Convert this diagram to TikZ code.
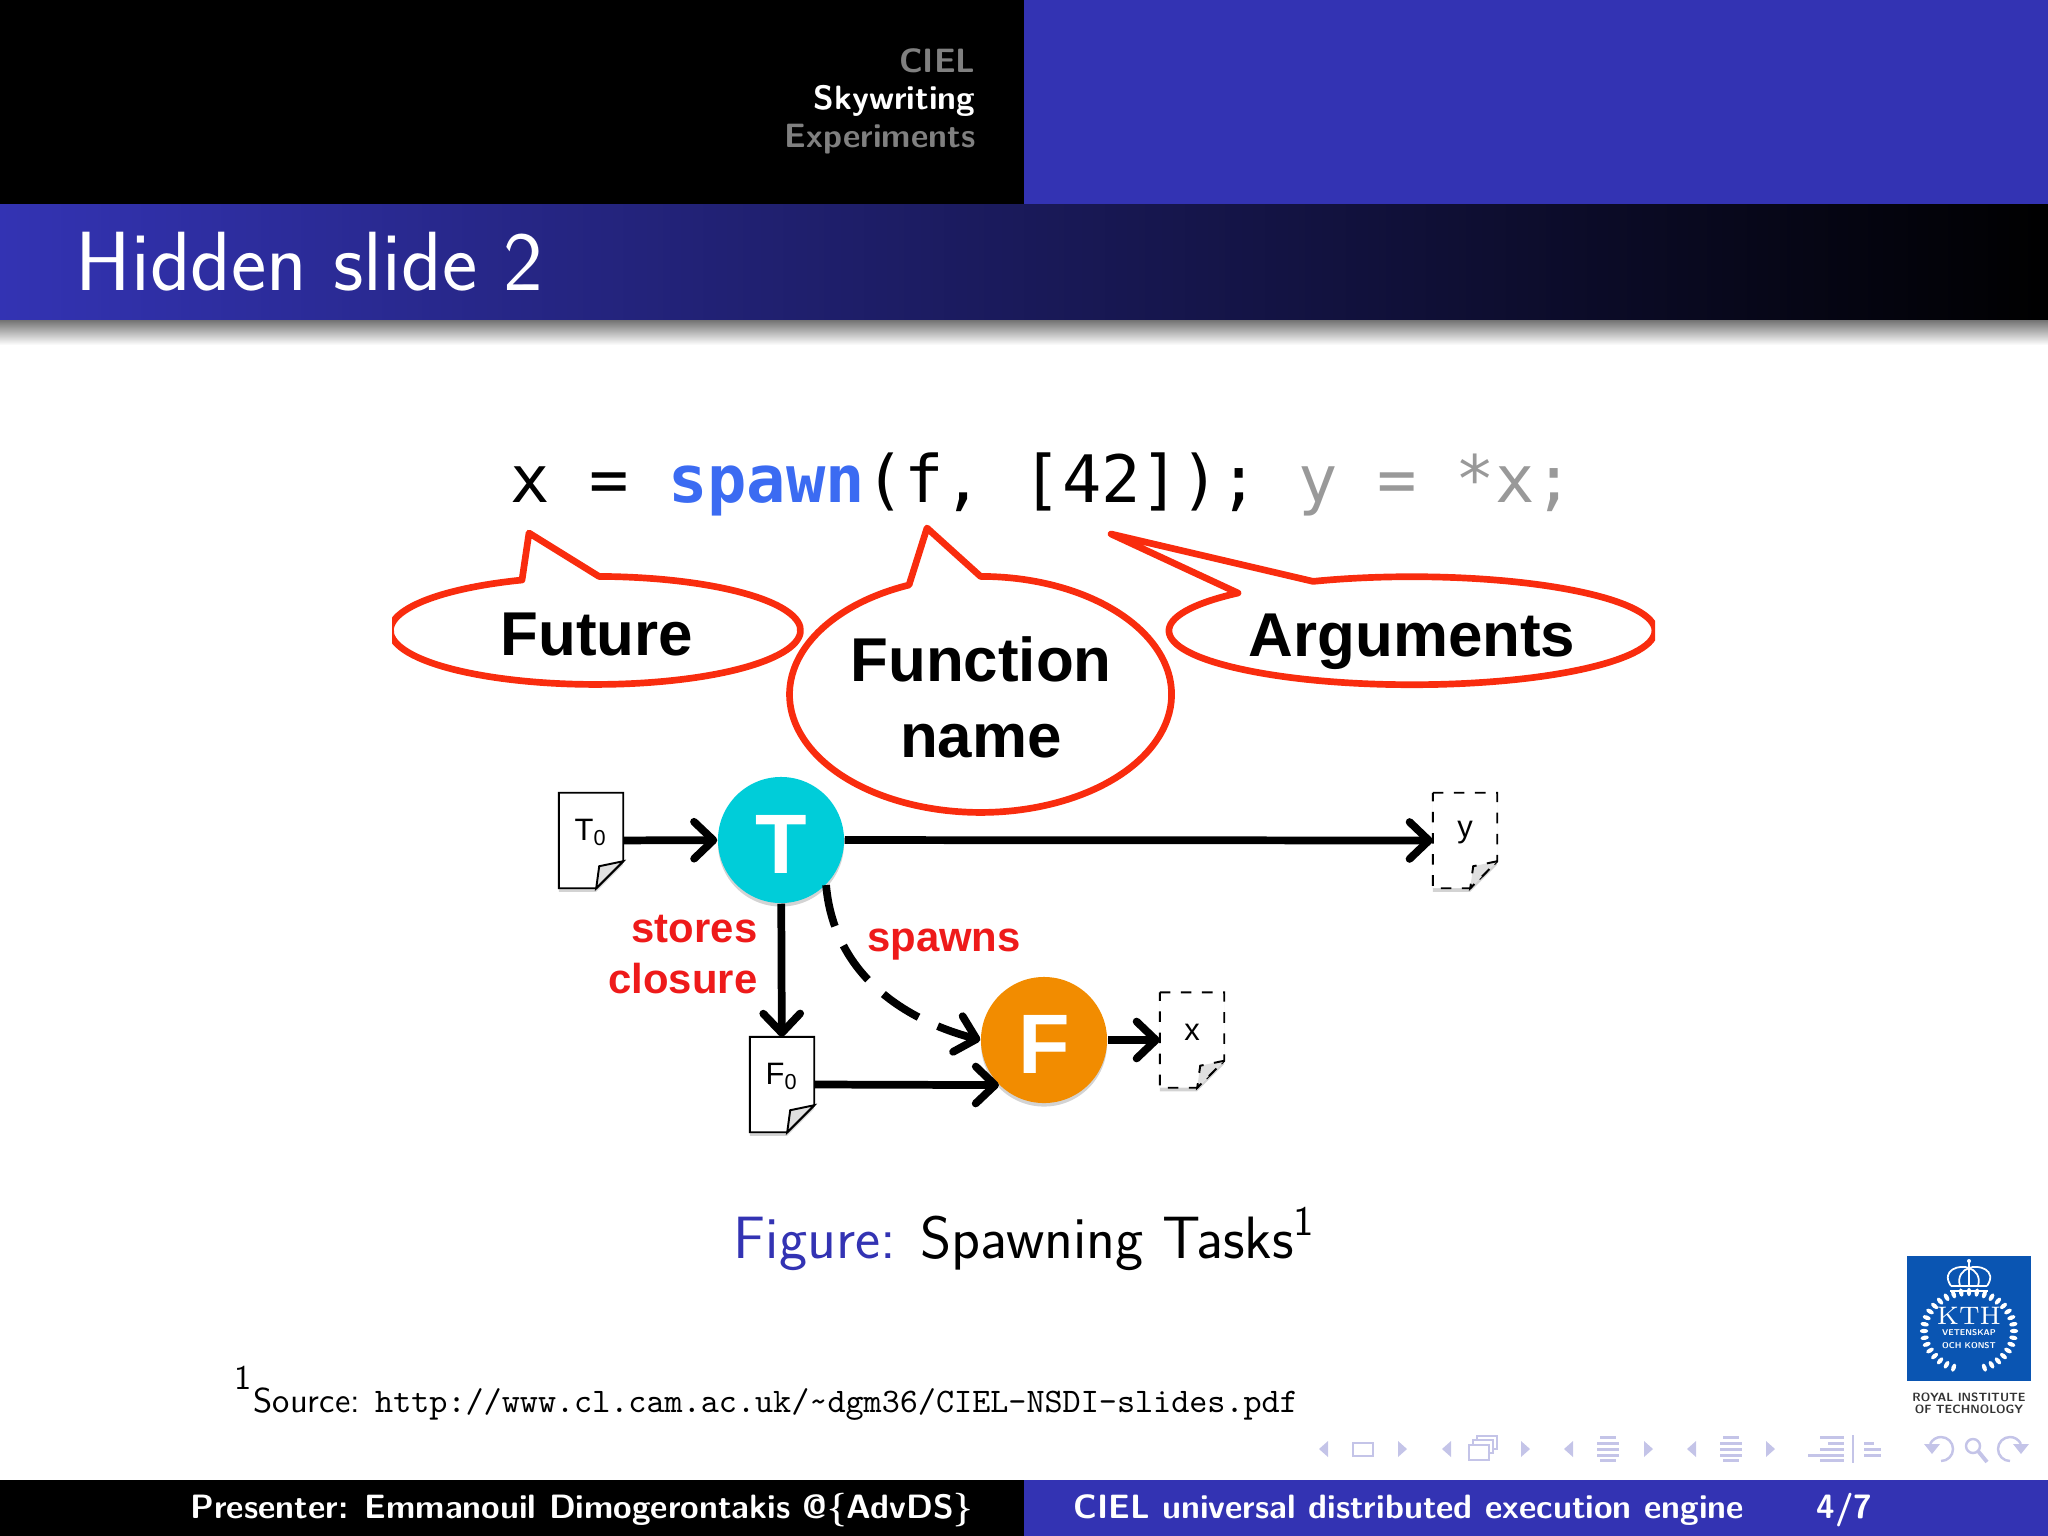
\documentclass[tikz,border=0pt]{standalone}
\usepackage{fontspec}
\usetikzlibrary{arrows.meta,shadows}
\newfontfamily\helv{Liberation Sans}
\newfontfamily\codefont{DejaVu Sans Mono}
\definecolor{barblue}{HTML}{3333B3}
\definecolor{callred}{HTML}{F92C0E}
\definecolor{labelred}{HTML}{EE1A1A}
\definecolor{spawnblue}{HTML}{3B6BF2}
\definecolor{taskcyan}{HTML}{00CDD9}
\definecolor{taskorange}{HTML}{F28C00}
\definecolor{navblue}{HTML}{C4C4E8}
\definecolor{kthblue}{HTML}{0A55B2}
\tikzset{
  headtext/.style={font=\sffamily\bfseries\fontsize{9.6}{11}\selectfont,anchor=east,inner sep=0pt},
  foottext/.style={font=\sffamily\bfseries\fontsize{9.6}{11}\selectfont,text=white,inner sep=0pt},
  callout/.style={draw=callred,line width=1.9pt,line join=round,fill=white},
  calltext/.style={font=\helv\bfseries\fontsize{17.6}{17.6}\selectfont,text=black,inner sep=0pt},
  redtext/.style={font=\helv\bfseries\fontsize{11.9}{14.5}\selectfont,text=labelred,inner sep=0pt},
  task/.style={circle,minimum size=1.26cm,inner sep=0pt,text=white,text height=0.66cm,
    font=\helv\bfseries\fontsize{24}{24}\selectfont,
    drop shadow={opacity=.35,shadow xshift=0pt,shadow yshift=-1pt}},
  docbox/.style={minimum width=0.63cm,minimum height=0.94cm,inner sep=0pt},
  docline/.style={draw=black,line width=.55pt,fill=white,drop shadow={opacity=.35,shadow xshift=0pt,shadow yshift=-1pt}},
  docfold/.style={draw=black,line width=.55pt,fill=black!12},
  doctext/.style={font=\helv\fontsize{8.8}{8.8}\selectfont,inner sep=0pt},
  link/.style={line width=2.2pt,-{Straight Barb[round,length=5.5pt,width=10.5pt,line width=2.2pt]}},
  navicon/.style={fill=navblue,draw=none},
  navline/.style={draw=navblue,line width=.7pt,fill=none},
  crown/.style={draw=white,line width=.5pt,fill=none},
}
% Page with a folded corner: name, position, line style, text
\newcommand{\docpage}[4]{
  \node[docbox] (#1) at (#2) {};
  \draw[docline,#3] (#1.north west) -- (#1.north east) -- ([yshift=0.27cm]#1.south east)
    -- ([xshift=-0.27cm]#1.south east) -- (#1.south west) -- cycle;
  \draw[docfold,#3] ([yshift=0.27cm]#1.south east) -- ([xshift=-0.24cm,yshift=0.22cm]#1.south east)
    -- ([xshift=-0.27cm]#1.south east) -- cycle;
  \node[doctext,yshift=0.08cm] (#1text) at (#1) {#4};
}
\begin{document}
\begin{tikzpicture}[x=0.01cm,y=0.01cm]
  \useasboundingbox (0,0) rectangle (2048,-1536);
  % Header
  \fill[black] (0,0) rectangle (1024,-204);
  \fill[barblue] (1024,0) rectangle (2048,-204);
  \shade[left color=barblue,right color=black] (0,-204) rectangle (2048,-320);
  \shade[top color=black!55,bottom color=white] (0,-320) rectangle (2048,-345);
  \node[headtext,text=black!50] (ciel) at (976,-61) {CIEL};
  \node[headtext,text=white] (sky) at (976,-101) {Skywriting};
  \node[headtext,text=black!50] (exper) at (976,-139.5) {Experiments};
  \node[font=\sffamily\fontsize{23.9}{28}\selectfont,text=white,anchor=base west,inner sep=0pt] (title) at (75,-290) {Hidden slide 2};
  % Code line
  \node[font=\codefont\fontsize{18.6}{22}\selectfont,anchor=base west,inner sep=0pt] (code) at (510,-502)
    {x = \textcolor{spawnblue}{\bfseries spawn}(f, [42]); \textcolor{black!40}{y = *x;}};
  % Callouts
  \begin{scope}
    \clip (392,-500) rectangle (1655,-830);
    \draw[callout] (529,-533) -- (522,-580) arc[start angle=111,end angle=449,x radius=205,y radius=54] -- cycle;
    \draw[callout] (1111,-534) -- (1238,-593) arc[start angle=135.7,end angle=474,x radius=243,y radius=54] -- cycle;
    \draw[callout] (927,-528) -- (909,-585) arc[start angle=112,end angle=450,x radius=191,y radius=118] -- cycle;
  \end{scope}
  \node[calltext] (future) at (597,-635) {Future};
  \node[calltext] (function) at (981,-659) {Function};
  \node[calltext] (fname) at (981,-741) {name};
  \node[calltext] (arguments) at (1412,-642) {Arguments};
  % Tasks and pages
  \node[task,fill=taskcyan] (T) at (781,-840) {T};
  \node[task,fill=taskorange] (F) at (1044,-1040) {F};
  \docpage{T0}{591,-840.5}{}{T\textsubscript{0}}
  \docpage{F0}{782,-1084.5}{}{F\textsubscript{0}}
  \docpage{y}{1465,-840.5}{dashed}{y}
  \docpage{x}{1192,-1040}{dashed}{x}
  \draw[link] (T0) -- (T);
  \draw[link] (T) -- (y);
  \draw[link] (T) -- (F0);
  \draw[link] (F) -- (x);
  \draw[link] (F0.east) -- (F.225);
  \draw[link,dash pattern=on 12pt off 6pt] (T.-45) to[out=-85,in=165] (F.west);
  \node[redtext,align=right,anchor=east] (stores) at (758,-955) {stores\\closure};
  \node[redtext] (spawns) at (944,-945) {spawns};
  % Caption and footnote
  \node[font=\sffamily\fontsize{17}{20}\selectfont,anchor=base west,inner sep=0pt] (caption) at (733,-1258)
    {\textcolor{barblue}{Figure:} Spawning Tasks\textsuperscript{1}};
  \node[font=\sffamily\fontsize{9.8}{11}\selectfont,anchor=base west,inner sep=0pt] (source) at (253,-1412)
    {Source: \texttt{http://www.cl.cam.ac.uk/\string~dgm36/CIEL-NSDI-slides.pdf}};
  \node[font=\sffamily\fontsize{9.8}{11}\selectfont,anchor=base west,inner sep=0pt] (mark) at (234,-1389) {1};
  % KTH logo
  \fill[kthblue] (1907,-1256) rectangle (2031,-1381);
  \foreach \a in {-70,-60,...,250}
    \fill[white,rotate around={\a:({1969+45*cos(\a)},{-1331+39*sin(\a)})}] ({1969+45*cos(\a)},{-1331+39*sin(\a)}) ellipse (4.2 and 2.2);
  \foreach \a in {-65,-45,...,245}
    \fill[kthblue] ({1969+45*cos(\a)},{-1331+39*sin(\a)}) circle (1.1);
  \draw[crown] (1951,-1286) -- (1987,-1286) (1950,-1291) -- (1988,-1291);
  \draw[crown] (1951,-1286) .. controls (1940,-1270) and (1960,-1264) .. (1969,-1268)
    .. controls (1978,-1264) and (1998,-1270) .. (1987,-1286);
  \draw[crown] (1960,-1286) .. controls (1957,-1276) and (1963,-1270) .. (1969,-1268)
    .. controls (1975,-1270) and (1981,-1276) .. (1978,-1286) (1969,-1286) -- (1969,-1262);
  \fill[white] (1969,-1261) circle (2);
  \node[font=\rmfamily\fontsize{7.2}{8}\selectfont,text=white,inner sep=0pt] (kth) at (1969,-1316) {KTH};
  \node[font=\sffamily\bfseries\fontsize{2.4}{3}\selectfont,text=white,align=center,inner sep=0pt] (motto) at (1969,-1339) {VETENSKAP\\[.5pt]OCH KONST};
  \node[font=\sffamily\bfseries\fontsize{3.4}{3.4}\selectfont,text=black!80,align=center,inner sep=0pt] (royal) at (1969,-1403) {ROYAL INSTITUTE\\OF TECHNOLOGY};
  % Navigation symbols
  \foreach \x in {1324,1447,1569,1692}
    \fill[navicon] (\x,-1449) ++(-5,0) -- ++(9,8) -- ++(0,-16) -- cycle;
  \foreach \x in {1402,1525,1648,1770}
    \fill[navicon] (\x,-1449) ++(5,0) -- ++(-9,8) -- ++(0,-16) -- cycle;
  \draw[navline] (1353,-1443) rectangle (1373,-1456);
  \draw[navline,fill=white] (1477,-1436) rectangle (1497,-1449);
  \draw[navline,fill=white] (1473,-1440) rectangle (1493,-1453);
  \draw[navline,fill=white] (1469,-1445) rectangle (1489,-1460);
  \foreach \x in {1608,1731}
    \foreach \y/\w in {-1437/8,-1443/11,-1449/11,-1455/11,-1460/8}
      \fill[navicon] (\x-\w,\y-1.5) rectangle (\x+\w,\y+1.5);
  \foreach \y/\w in {-1437/8,-1443/4,-1449/8,-1455/14,-1460/8}
    \fill[navicon] (1836-2*\w,\y-1.5) rectangle (1844,\y+1.5);
  \draw[navline] (1853,-1435) -- (1853,-1463);
  \foreach \y/\w in {-1443/10,-1449/17,-1455/17}
    \fill[navicon] (1864,\y-1.5) rectangle (1864+\w,\y+1.5);
  \draw[navline] (1941,-1461) arc[start angle=-90,end angle=155,radius=12];
  \fill[navicon] (1924,-1444) -- (1940,-1444) -- (1932,-1454) -- cycle;
  \draw[navline] (1973,-1446) circle (7);
  \draw[navicon,draw=navblue,line width=1.1pt] (1978,-1451) -- (1987,-1462);
  \draw[navline] (2010,-1461) arc[start angle=-90,end angle=-335,radius=12];
  \fill[navicon] (2029,-1444) -- (2013,-1444) -- (2021,-1454) -- cycle;
  % Footer
  \fill[black] (0,-1480) rectangle (1024,-1536);
  \fill[barblue] (1024,-1480) rectangle (2048,-1536);
  \node[foottext,anchor=base east] (presenter) at (974,-1518) {Presenter: Emmanouil Dimogerontakis @\{AdvDS\}};
  \node[foottext,anchor=base west] (topic) at (1073,-1518) {CIEL universal distributed execution engine};
  \node[foottext,anchor=base east] (page) at (1873,-1518) {4/7};
\end{tikzpicture}
\end{document}
